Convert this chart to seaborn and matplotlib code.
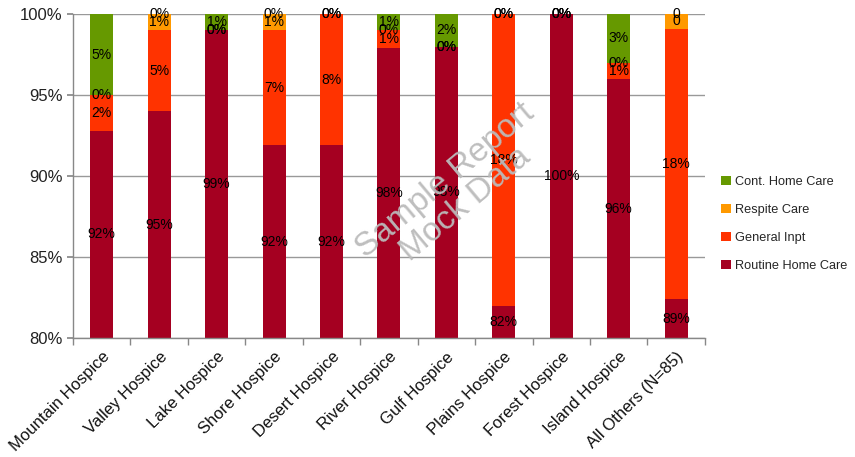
import numpy as np
import matplotlib
matplotlib.use("Agg")
import matplotlib.pyplot as plt
from matplotlib.patches import Patch
import seaborn as sns

# categories and segment heights (% of days), as drawn
HOSPICES = ["Mountain Hospice", "Valley Hospice", "Lake Hospice", "Shore Hospice",
            "Desert Hospice", "River Hospice", "Gulf Hospice", "Plains Hospice",
            "Forest Hospice", "Island Hospice", "All Others (N=85)"]
routine = [92.8, 94.0, 99.0, 91.9, 91.9, 97.9, 98.0, 82.0, 100.0, 96.0, 82.4]
general = [2.2, 5.0, 0.0, 7.1, 8.1, 1.1, 0.0, 18.0, 0.0, 1.0, 16.7]
respite = [0.0, 1.0, 0.0, 1.0, 0.0, 0.0, 0.0, 0.0, 0.0, 0.0, 0.9]
cont = [5.0, 0.0, 1.0, 0.0, 0.0, 1.0, 2.0, 0.0, 0.0, 3.0, 0.0]

# data labels as printed on the chart
routine_lbl = ["92%", "95%", "99%", "92%", "92%", "98%", "98%", "82%", "100%", "96%", "89%"]
general_lbl = ["2%", "5%", "0%", "7%", "8%", "1%", "0%", "18%", "0%", "1%", "18%"]
respite_lbl = ["0%", "1%", "0%", "1%", "0%", "0%", "0%", "0%", "0%", "0%", "0"]
cont_lbl = ["5%", "0%", "1%", "0%", "0%", "1%", "2%", "0%", "0%", "3%", "0"]

SERIES = ["Routine Home Care", "General Inpt", "Respite Care", "Cont. Home Care"]
COLORS = {
    "Routine Home Care": "#A50021",
    "General Inpt":      "#FF3300",
    "Respite Care":      "#FF9900",
    "Cont. Home Care":   "#669900",
}

sns.set_theme(style="white")
plt.rcParams["font.family"] = ["Liberation Sans Narrow", "Liberation Sans", "DejaVu Sans"]

fig = plt.figure(figsize=(8.55, 4.57), dpi=100)
ax = fig.add_axes([0.0854, 0.260, 0.739, 0.709])

layers = [np.array(routine), np.array(general), np.array(respite), np.array(cont)]
labels = [routine_lbl, general_lbl, respite_lbl, cont_lbl]
cum = np.cumsum(layers, axis=0)

# draw tallest cumulative first so lower layers paint over it
for k in range(len(SERIES) - 1, -1, -1):
    sns.barplot(x=HOSPICES, y=cum[k], color=COLORS[SERIES[k]], saturation=1,
                width=0.4, linewidth=0, ax=ax)

# segment labels
for k in range(len(SERIES)):
    bottoms = cum[k] - layers[k]
    for i in range(len(HOSPICES)):
        lo = max(bottoms[i], 80.0)
        mid = (lo + cum[k][i]) / 2
        ax.text(i, mid, labels[k][i], ha="center", va="center",
                fontsize=10, color="black", zorder=5)

ax.set_ylim(80, 100)
ax.set_xlim(-0.5, len(HOSPICES) - 0.5)
ax.set_yticks([80, 85, 90, 95, 100])
ax.set_yticklabels([f"{v}%" for v in [80, 85, 90, 95, 100]], fontsize=12, color="#222222")
ax.set_xticks(range(len(HOSPICES)))
ax.set_xticklabels(HOSPICES, rotation=45, ha="right", rotation_mode="anchor",
                   fontsize=12, color="#111111")
ax.set_xticks(np.arange(-0.5, len(HOSPICES)), minor=True)
ax.tick_params(axis="x", which="major", length=0, pad=8)
ax.tick_params(axis="x", which="minor", length=5, color="#888888", bottom=True)
ax.tick_params(axis="y", length=4, color="#888888", left=True)
ax.set_xlabel("")
ax.set_ylabel("")

ax.yaxis.grid(True, color="#999999", linewidth=1)
ax.set_axisbelow(True)
for side in ["top", "right"]:
    ax.spines[side].set_visible(False)
for side in ["left", "bottom"]:
    ax.spines[side].set_color("#888888")
    ax.spines[side].set_linewidth(1)

# watermark
ax.text(0.605, 0.45, "Sample Report\nMock Data", transform=ax.transAxes,
        rotation=40, ha="center", va="center", fontsize=24,
        color="#BBBBBB", alpha=0.95, zorder=6, linespacing=1.0,
        family=["Liberation Sans", "DejaVu Sans"])

handles = [Patch(facecolor=COLORS[s], edgecolor="none", label=s) for s in SERIES[::-1]]
fig.legend(handles=handles, loc="center left", bbox_to_anchor=(0.833, 0.51),
           frameon=False, fontsize=9.2, handlelength=0.75, handleheight=0.75,
           handletextpad=0.35, labelspacing=1.25, borderpad=0.2)

fig.savefig("out.png", dpi=100)
